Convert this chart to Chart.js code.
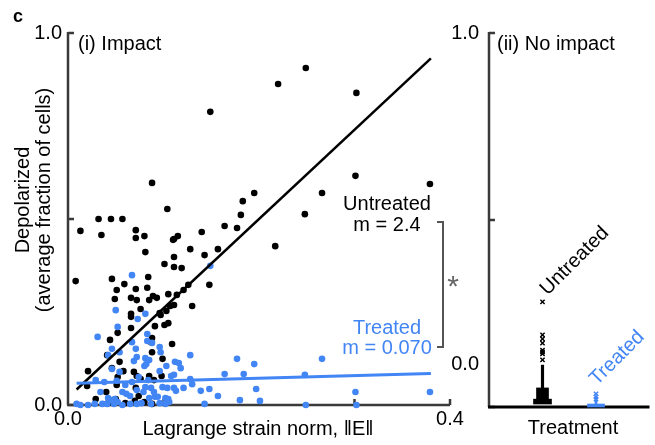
<!DOCTYPE html>
<html>
<head>
<meta charset="utf-8">
<script src="https://cdn.jsdelivr.net/npm/chart.js@4.4.1/dist/chart.umd.min.js"></script>
<style>
  html, body { margin: 0; padding: 0; background: #fff; }
  #wrap { position: relative; width: 655px; height: 445px; overflow: hidden; }
  #impact-chart { position: absolute; left: 0; top: 0; }
  #noimpact-chart { position: absolute; left: 445px; top: 0; }
</style>
</head>
<body>
<div id="wrap">
  <canvas id="impact-chart" width="470" height="445"></canvas>
  <canvas id="noimpact-chart" width="210" height="445"></canvas>
</div>
<script>
// (i) impact: strain norm vs fraction of depolarized cells
const untreatedStrain = [
    0.249, 0.220, 0.302, 0.149, 0.088, 0.301, 0.379, 0.104, 0.183, 0.195,
    0.266, 0.181, 0.248, 0.032, 0.045, 0.057, 0.164, 0.177, 0.217, 0.013,
    0.035, 0.071, 0.071, 0.080, 0.115, 0.111, 0.140, 0.081, 0.128, 0.143,
    0.157, 0.111, 0.101, 0.111, 0.119, 0.008, 0.046, 0.084, 0.059, 0.071,
    0.051, 0.083, 0.126, 0.121, 0.148, 0.114, 0.105, 0.089, 0.093, 0.049,
    0.066, 0.072, 0.085, 0.130, 0.107, 0.111, 0.076, 0.096, 0.066, 0.103,
    0.097, 0.105, 0.101, 0.091, 0.066, 0.052, 0.044, 0.088, 0.087, 0.109,
    0.041, 0.088, 0.099, 0.054, 0.046, 0.021, 0.058, 0.069, 0.052, 0.072,
    0.076, 0.085, 0.090, 0.098, 0.020, 0.051, 0.071, 0.040, 0.029, 0.050,
    0.070, 0.080, 0.074, 0.066, 0.110, 0.060, 0.088, 0.042
];
const untreatedDepol = [
    0.906, 0.863, 0.839, 0.788, 0.597, 0.616, 0.594, 0.527, 0.548, 0.570,
    0.570, 0.511, 0.513, 0.500, 0.500, 0.500, 0.481, 0.476, 0.427, 0.468,
    0.457, 0.470, 0.449, 0.454, 0.454, 0.446, 0.465, 0.411, 0.419, 0.403,
    0.419, 0.398, 0.379, 0.371, 0.368, 0.333, 0.339, 0.344, 0.325, 0.312,
    0.309, 0.315, 0.323, 0.309, 0.323, 0.296, 0.298, 0.293, 0.288, 0.285,
    0.288, 0.282, 0.282, 0.266, 0.266, 0.269, 0.258, 0.247, 0.245, 0.253,
    0.242, 0.220, 0.215, 0.212, 0.207, 0.194, 0.175, 0.180, 0.169, 0.164,
    0.134, 0.142, 0.124, 0.116, 0.099, 0.091, 0.091, 0.089, 0.075, 0.078,
    0.070, 0.078, 0.067, 0.078, 0.051, 0.054, 0.046, 0.035, 0.016, 0.016,
    0.011, 0.008, 0.024, 0.237, 0.444, 0.005, 0.003, 0.005
];
const treatedStrain = [
    0.067, 0.149, 0.050, 0.081, 0.073, 0.052, 0.031, 0.083, 0.083, 0.088,
    0.067, 0.071, 0.096, 0.097, 0.046, 0.054, 0.042, 0.072, 0.081, 0.085,
    0.082, 0.080, 0.069, 0.112, 0.116, 0.118, 0.103, 0.096, 0.128, 0.177,
    0.195, 0.184, 0.164, 0.266, 0.248, 0.046, 0.054, 0.074, 0.067, 0.084,
    0.029, 0.038, 0.051, 0.057, 0.034, 0.061, 0.072, 0.081, 0.087, 0.090,
    0.099, 0.104, 0.111, 0.113, 0.108, 0.111, 0.121, 0.128, 0.130, 0.139,
    0.148, 0.157, 0.180, 0.143, 0.009, 0.013, 0.021, 0.028, 0.036, 0.041,
    0.048, 0.052, 0.057, 0.065, 0.072, 0.077, 0.087, 0.096, 0.102, 0.106,
    0.042, 0.046, 0.049, 0.085, 0.091, 0.094, 0.102, 0.105, 0.197, 0.201,
    0.249, 0.301, 0.302, 0.379, 0.079, 0.065, 0.060
];
const treatedDepol = [
    0.349, 0.374, 0.255, 0.245, 0.231, 0.210, 0.183, 0.191, 0.172, 0.167,
    0.169, 0.151, 0.156, 0.142, 0.151, 0.142, 0.134, 0.129, 0.126, 0.121,
    0.110, 0.105, 0.118, 0.116, 0.113, 0.099, 0.105, 0.091, 0.134, 0.124,
    0.110, 0.083, 0.083, 0.124, 0.081, 0.097, 0.089, 0.075, 0.062, 0.067,
    0.067, 0.062, 0.065, 0.035, 0.035, 0.030, 0.040, 0.048, 0.046, 0.035,
    0.048, 0.046, 0.046, 0.038, 0.078, 0.081, 0.046, 0.070, 0.056, 0.038,
    0.043, 0.024, 0.013, 0.003, 0.003, 0.000, 0.000, 0.003, 0.003, 0.003,
    0.003, 0.008, 0.000, 0.003, 0.003, 0.005, 0.003, 0.005, 0.003, 0.008,
    0.019, 0.013, 0.016, 0.019, 0.022, 0.022, 0.019, 0.016, 0.043, 0.011,
    0.000, 0.035, 0.000, 0.035, 0.035, 0.024, 0.054
];
// linear fits, drawn over the strain range of the data
const fitSlopes = [2.4, 0.070];
const fitIntercepts = [0.02, 0.058];
const fitRange = [0.009, 0.38];
const slopeLabels = ['m = 2.4', 'm = 0.070'];

// (ii) no impact: box summary per treatment group
const groupNames = ['Untreated', 'Treated'];
const groupPositions = [1, 2];
const whiskerLow = [0.008, null];
const boxQ1 = [0.019, 0.0];
const boxQ3 = [0.051, 0.008];
const whiskerHigh = [0.112, 0.025];
const untreatedOutliers = [0.281, 0.193, 0.182, 0.171, 0.152, 0.147, 0.142, 0.126];
const treatedOutliers = [0.035, 0.027, 0.021];

const BLUE = '#4285f4';
const AXIS = '#3a3a3a';
const FONT = '"Liberation Sans", Arial, sans-serif';

Chart.defaults.font.family = FONT;
Chart.defaults.font.size = 20;
Chart.defaults.color = '#000';

function toPoints(xs, ys) {
    return xs.map((x, i) => ({ x, y: ys[i] }));
}

function fitLine(i) {
    return fitRange.map(x => ({ x, y: fitIntercepts[i] + fitSlopes[i] * x }));
}

// axis lines with short ticks pointing into the plot
function drawAxes(chart, xColor, xWidth, skipFirstX) {
    const { ctx, chartArea: a, scales } = chart;
    ctx.save();
    ctx.strokeStyle = AXIS;
    ctx.lineWidth = 2.5;
    ctx.beginPath();
    ctx.moveTo(a.left, a.top - 1);
    ctx.lineTo(a.left, a.bottom);
    scales.y.ticks.forEach(t => {
        const y = scales.y.getPixelForValue(t.value);
        ctx.moveTo(a.left, y);
        ctx.lineTo(a.left + 6, y);
    });
    ctx.stroke();

    ctx.strokeStyle = xColor;
    ctx.lineWidth = xWidth;
    ctx.beginPath();
    ctx.moveTo(a.left - 1, a.bottom);
    ctx.lineTo(a.right, a.bottom);
    if (skipFirstX) {
        scales.x.ticks.slice(1).forEach(t => {
            const x = scales.x.getPixelForValue(t.value);
            ctx.moveTo(x, a.bottom);
            ctx.lineTo(x, a.bottom - 6);
        });
    }
    ctx.stroke();
    ctx.restore();
}

function text(ctx, str, x, y, opts = {}) {
    ctx.save();
    ctx.font = opts.font || '20px ' + FONT;
    ctx.fillStyle = opts.color || '#000';
    ctx.textAlign = opts.align || 'center';
    ctx.textBaseline = opts.baseline || 'middle';
    ctx.translate(x, y);
    if (opts.rotate) ctx.rotate(opts.rotate);
    ctx.fillText(str, 0, 0);
    ctx.restore();
}

const impactDecor = {
    id: 'impactDecor',
    beforeDatasetsDraw(chart) {
        drawAxes(chart, AXIS, 2.5, true);
    },
    afterDraw(chart) {
        const ctx = chart.ctx;
        text(ctx, 'c', 13, 22, { font: 'bold 18px ' + FONT, align: 'left', baseline: 'alphabetic' });
        text(ctx, '(i) Impact', 78, 50, { align: 'left', baseline: 'alphabetic' });
        text(ctx, 'Depolarized', 23, 200, { rotate: -Math.PI / 2 });
        text(ctx, '(average fraction of cells)', 44, 200, { rotate: -Math.PI / 2 });
        text(ctx, 'Lagrange strain norm, \u2016E\u2016', 258, 429);

        text(ctx, groupNames[0], 387, 204);
        text(ctx, slopeLabels[0], 387, 225);
        text(ctx, groupNames[1], 387, 328, { color: BLUE });
        text(ctx, slopeLabels[1], 387, 348, { color: BLUE });

        // significance bracket between the two slopes
        ctx.save();
        ctx.strokeStyle = '#555';
        ctx.lineWidth = 2;
        ctx.beginPath();
        ctx.moveTo(437, 222);
        ctx.lineTo(443, 222);
        ctx.lineTo(443, 347);
        ctx.lineTo(437, 347);
        ctx.stroke();
        ctx.restore();
        text(ctx, '*', 453, 296, { font: '30px ' + FONT, color: '#666', baseline: 'alphabetic' });
    }
};

new Chart(document.getElementById('impact-chart'), {
    type: 'scatter',
    data: {
        datasets: [
            {
                label: groupNames[0],
                data: toPoints(untreatedStrain, untreatedDepol),
                backgroundColor: '#000',
                borderWidth: 0,
                pointRadius: 3.3,
                clip: false,
                order: 4
            },
            {
                label: groupNames[1],
                data: toPoints(treatedStrain, treatedDepol),
                backgroundColor: BLUE,
                borderWidth: 0,
                pointRadius: 3.3,
                clip: false,
                order: 3
            },
            {
                label: groupNames[0] + ' fit',
                data: fitLine(0),
                showLine: true,
                borderColor: '#000',
                borderWidth: 2.5,
                pointRadius: 0,
                order: 2
            },
            {
                label: groupNames[1] + ' fit',
                data: fitLine(1),
                showLine: true,
                borderColor: BLUE,
                borderWidth: 3,
                pointRadius: 0,
                order: 1
            }
        ]
    },
    options: {
        responsive: false,
        animation: false,
        layout: { padding: { top: 33, right: 20, left: 0, bottom: 0 } },
        plugins: {
            legend: { display: false },
            tooltip: { enabled: false }
        },
        scales: {
            x: {
                type: 'linear',
                min: 0,
                max: 0.4,
                afterFit: s => { s.height = 40; },
                grid: { display: false, drawTicks: false },
                border: { display: false },
                ticks: {
                    stepSize: 0.1,
                    padding: 2,
                    maxRotation: 0,
                    autoSkip: false,
                    callback: v => (Math.abs(v) < 1e-9 ? '0.0' : Math.abs(v - 0.4) < 1e-9 ? '0.4' : '')
                }
            },
            y: {
                min: 0,
                max: 1,
                afterFit: s => { s.width = 68; },
                grid: { display: false, drawTicks: false },
                border: { display: false },
                ticks: {
                    stepSize: 0.5,
                    padding: 6,
                    callback: v => (v === 0 ? '0.0' : v === 1 ? '1.0' : '')
                }
            }
        }
    },
    plugins: [impactDecor]
});

// (ii) box summaries: whisker, box and foot per group, outliers as crosses
const boxWidths = [12, 17];
const groupColors = ['#000', BLUE];
const outliers = [untreatedOutliers, treatedOutliers];
const boxDatasets = [];
groupNames.forEach((name, i) => {
    const x = groupPositions[i];
    const color = groupColors[i];
    boxDatasets.push({
        type: 'bar',
        label: name + ' whisker',
        data: [{ x, y: [boxQ3[i], whiskerHigh[i]] }],
        backgroundColor: color,
        barThickness: i === 0 ? 2.5 : 2,
        grouped: false,
        clip: false
    });
    boxDatasets.push({
        type: 'bar',
        label: name + ' box',
        data: [{ x, y: [boxQ1[i], boxQ3[i]] }],
        backgroundColor: color,
        barThickness: boxWidths[i],
        grouped: false,
        clip: false
    });
    if (whiskerLow[i] !== null) {
        boxDatasets.push({
            type: 'bar',
            label: name + ' foot',
            data: [{ x, y: [whiskerLow[i], boxQ1[i] + 0.002] }],
            backgroundColor: color,
            barThickness: 18,
            grouped: false,
            clip: false
        });
    }
    boxDatasets.push({
        type: 'scatter',
        label: name + ' outliers',
        data: outliers[i].map(y => ({ x, y })),
        pointStyle: 'crossRot',
        pointRadius: 3,
        borderColor: color,
        borderWidth: 1.5,
        clip: false
    });
});

const noImpactDecor = {
    id: 'noImpactDecor',
    beforeDatasetsDraw(chart) {
        drawAxes(chart, '#000', 3, false);
    },
    afterDraw(chart) {
        const { ctx, scales } = chart;
        text(ctx, '(ii) No impact', 52, 50, { align: 'left', baseline: 'alphabetic' });
        text(ctx, '0.0', 34, 364, { align: 'right' });
        text(ctx, 'Treatment', 128, 428);
        const ux = scales.x.getPixelForValue(groupPositions[0]);
        const tx = scales.x.getPixelForValue(groupPositions[1]);
        text(ctx, groupNames[0], ux + 5, 296, { align: 'left', baseline: 'alphabetic', rotate: -Math.PI / 4 });
        text(ctx, groupNames[1], tx + 1, 386, { align: 'left', baseline: 'alphabetic', rotate: -Math.PI / 4, color: BLUE });
    }
};

new Chart(document.getElementById('noimpact-chart'), {
    type: 'bar',
    data: { datasets: boxDatasets },
    options: {
        responsive: false,
        animation: false,
        layout: { padding: { top: 33, right: 0, left: 0, bottom: 0 } },
        plugins: {
            legend: { display: false },
            tooltip: { enabled: false }
        },
        scales: {
            x: {
                type: 'linear',
                min: 0,
                max: 3,
                offset: false,
                afterFit: s => { s.height = 38; },
                grid: { display: false, drawTicks: false, offset: false },
                border: { display: false },
                ticks: { display: false }
            },
            y: {
                min: 0,
                max: 1,
                afterFit: s => { s.width = 44; },
                grid: { display: false, drawTicks: false },
                border: { display: false },
                ticks: {
                    stepSize: 0.5,
                    padding: 10,
                    callback: v => (v === 1 ? '1.0' : '')
                }
            }
        }
    },
    plugins: [noImpactDecor]
});
</script>
</body>
</html>
